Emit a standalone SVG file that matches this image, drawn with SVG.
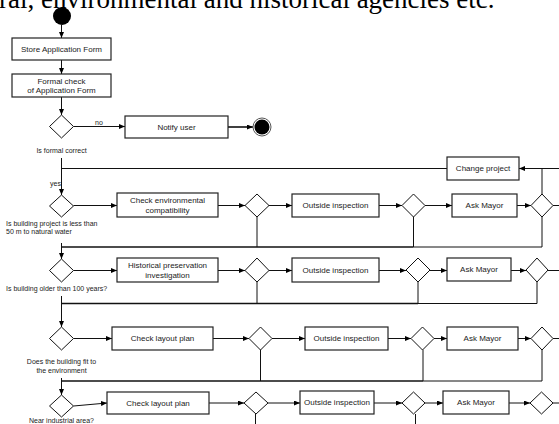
<svg xmlns="http://www.w3.org/2000/svg" width="559" height="424" viewBox="0 0 559 424">
<defs>
<marker id="arr" markerUnits="userSpaceOnUse" markerWidth="6" markerHeight="5" refX="6" refY="2.5" orient="auto">
<path d="M0,0 L6,2.5 L0,5 z" fill="#000"/>
</marker>
<style>
.box{fill:#fff;stroke:#222;stroke-width:1.2}
.dia{fill:#fff;stroke:#111;stroke-width:1}
.t{font-family:"Liberation Sans",Arial,sans-serif;font-size:8px;fill:#222;text-anchor:middle}
.lbl{font-family:"Liberation Sans",Arial,sans-serif;font-size:7px;fill:#222}
.c{fill:none;stroke:#111;stroke-width:1}
.ca{fill:none;stroke:#111;stroke-width:1;marker-end:url(#arr)}
.thick{fill:none;stroke:#111;stroke-width:1.6}
</style>
</defs>
<rect width="559" height="424" fill="#fff"/>
<text x="-1" y="7.5" font-family="'Liberation Serif','Times New Roman',serif" font-size="27" fill="#000">ral, environmental and historical agencies etc.</text>

<g id="connectors">
<line class="ca" x1="61.5" y1="25" x2="61.5" y2="38"/>
<line class="ca" x1="61.5" y1="60" x2="61.5" y2="74"/>
<line class="ca" x1="61.5" y1="97" x2="61.5" y2="115"/>
<line class="ca" x1="73.5" y1="126.5" x2="125" y2="126.5"/>
<line class="thick" x1="228" y1="127" x2="253" y2="127" marker-end="url(#arr)"/>
<line class="ca" x1="61.5" y1="158" x2="61.5" y2="195"/>
<line class="c" x1="61.5" y1="168.5" x2="447" y2="168.5"/>
<line class="ca" x1="559" y1="168.5" x2="519" y2="168.5"/>
<line class="c" x1="542" y1="168.5" x2="542" y2="194"/>
<!-- row 1 -->
<line class="ca" x1="73.5" y1="205.5" x2="117" y2="205.5"/>
<line class="ca" x1="218" y1="205.5" x2="245" y2="205.5"/>
<line class="ca" x1="269" y1="205.5" x2="292" y2="205.5"/>
<line class="ca" x1="379" y1="205.5" x2="402" y2="205.5"/>
<line class="ca" x1="425" y1="205.5" x2="452" y2="205.5"/>
<line class="ca" x1="517" y1="205.5" x2="531" y2="205.5"/>
<line class="c" x1="553" y1="205.5" x2="559" y2="205.5"/>
<polyline class="c" points="257,217 257,247"/>
<polyline class="c" points="413.5,217 413.5,247"/>
<polyline class="c" points="542,217 542,247 413.5,247"/>
<line class="thick" x1="413.5" y1="247" x2="61.5" y2="247"/>
<line class="ca" x1="61.5" y1="243" x2="61.5" y2="259"/>
<!-- row 2 -->
<line class="ca" x1="73.5" y1="270.5" x2="117" y2="270.5"/>
<line class="ca" x1="218" y1="270.5" x2="245" y2="270.5"/>
<line class="ca" x1="269" y1="270.5" x2="292" y2="270.5"/>
<line class="ca" x1="379" y1="270.5" x2="406" y2="270.5"/>
<line class="ca" x1="430" y1="270.5" x2="447" y2="270.5"/>
<line class="ca" x1="511" y1="270.5" x2="526" y2="270.5"/>
<line class="c" x1="548" y1="270.5" x2="559" y2="270.5"/>
<polyline class="c" points="257,282 257,303.5"/>
<polyline class="c" points="418,282 418,303.5"/>
<polyline class="c" points="537,282 537,303.5 418,303.5"/>
<line class="thick" x1="418" y1="303.5" x2="61.5" y2="303.5"/>
<line class="ca" x1="61.5" y1="296" x2="61.5" y2="327"/>
<!-- row 3 -->
<line class="ca" x1="73.5" y1="338.5" x2="112" y2="338.5"/>
<line class="ca" x1="213" y1="338.5" x2="249" y2="338.5"/>
<line class="ca" x1="272" y1="338.5" x2="305" y2="338.5"/>
<line class="ca" x1="388" y1="338.5" x2="411" y2="338.5"/>
<line class="ca" x1="434" y1="338.5" x2="447" y2="338.5"/>
<line class="ca" x1="518" y1="338.5" x2="531" y2="338.5"/>
<line class="c" x1="553" y1="338.5" x2="559" y2="338.5"/>
<polyline class="c" points="260.5,350 260.5,381"/>
<polyline class="c" points="423,350 423,381"/>
<polyline class="c" points="542,350 542,381 423,381"/>
<line class="thick" x1="423" y1="381" x2="61.5" y2="381"/>
<line class="ca" x1="61.5" y1="378" x2="61.5" y2="395"/>
<!-- row 4 -->
<line class="ca" x1="73.5" y1="406" x2="107" y2="403"/>
<line class="ca" x1="209" y1="403" x2="244" y2="403"/>
<line class="ca" x1="268" y1="403" x2="300" y2="403"/>
<line class="ca" x1="374" y1="403" x2="402" y2="403"/>
<line class="ca" x1="425" y1="403" x2="443" y2="403"/>
<line class="ca" x1="509" y1="403" x2="530" y2="403"/>
<line class="c" x1="553" y1="403" x2="559" y2="403"/>
<line class="c" x1="255.5" y1="414" x2="255.5" y2="424"/>
<line class="c" x1="415.5" y1="414" x2="415.5" y2="424"/>
</g>

<g id="start"><circle cx="62" cy="16" r="9" fill="#000"/></g>
<g id="store"><rect class="box" x="12" y="38" width="99" height="22"/><text class="t" x="61.5" y="52">Store Application Form</text></g>
<g id="formal"><rect class="box" x="12" y="74" width="99" height="23"/><text class="t" x="61.5" y="84">Formal check</text><text class="t" x="61.5" y="93">of Application Form</text></g>
<g id="d1"><polygon class="dia" points="61.5,115 73.5,126.5 61.5,138 49.5,126.5"/><text class="lbl" x="61.5" y="153" text-anchor="middle">Is formal correct</text><text class="lbl" x="95" y="125">no</text><text class="lbl" x="61" y="186" text-anchor="end">yes</text></g>
<g id="notify"><rect class="box" x="125" y="116" width="103" height="22"/><text class="t" x="176.5" y="130">Notify user</text></g>
<g id="end"><circle cx="262" cy="127" r="9" fill="#fff" stroke="#555" stroke-width="1"/><circle cx="262" cy="127" r="7.5" fill="#000"/></g>
<g id="change"><rect class="box" x="447" y="157" width="72" height="23"/><text class="t" x="483" y="171">Change project</text></g>

<g id="d2"><polygon class="dia" points="61.5,195 73.5,206 61.5,217 49.5,206"/><text class="lbl" x="6" y="226">Is building project is less than</text><text class="lbl" x="6" y="234">50 m to natural water</text></g>
<g id="env"><rect class="box" x="117" y="193" width="101" height="24"/><text class="t" x="167.5" y="203">Check environmental</text><text class="t" x="167.5" y="213">compatibility</text></g>
<g id="d2a"><polygon class="dia" points="257,194 269,205.5 257,217 245,205.5"/></g>
<g id="oi1"><rect class="box" x="292" y="194" width="87" height="23"/><text class="t" x="335.5" y="208">Outside inspection</text></g>
<g id="d2b"><polygon class="dia" points="413.5,194 425,205.5 413.5,217 402,205.5"/></g>
<g id="am1"><rect class="box" x="452" y="194" width="65" height="23"/><text class="t" x="484.5" y="208">Ask Mayor</text></g>
<g id="d2c"><polygon class="dia" points="542,194 553,205.5 542,217 531,205.5"/></g>

<g id="d3"><polygon class="dia" points="61.5,259 73.5,270.5 61.5,282 49.5,270.5"/><text class="lbl" x="6" y="291">Is building older than 100 years?</text></g>
<g id="hist"><rect class="box" x="117" y="258" width="101" height="24"/><text class="t" x="167.5" y="268">Historical preservation</text><text class="t" x="167.5" y="278">investigation</text></g>
<g id="d3a"><polygon class="dia" points="257,258 269,270.5 257,282 245,270.5"/></g>
<g id="oi2"><rect class="box" x="292" y="258" width="87" height="24"/><text class="t" x="335.5" y="273">Outside inspection</text></g>
<g id="d3b"><polygon class="dia" points="418,258 430,270 418,282 406,270"/></g>
<g id="am2"><rect class="box" x="447" y="258" width="64" height="23"/><text class="t" x="479" y="272">Ask Mayor</text></g>
<g id="d3c"><polygon class="dia" points="537,258 548,270 537,282 526,270"/></g>

<g id="d4"><polygon class="dia" points="61.5,327 73.5,338.5 61.5,350 49.5,338.5"/><text class="lbl" x="61.5" y="364" text-anchor="middle">Does the building fit to</text><text class="lbl" x="61.5" y="373" text-anchor="middle">the environment</text></g>
<g id="lay1"><rect class="box" x="112" y="327" width="101" height="23"/><text class="t" x="162.5" y="341">Check layout plan</text></g>
<g id="d4a"><polygon class="dia" points="260.5,327 272,338.5 260.5,350 249,338.5"/></g>
<g id="oi3"><rect class="box" x="305" y="327" width="83" height="23"/><text class="t" x="346.5" y="341">Outside inspection</text></g>
<g id="d4b"><polygon class="dia" points="422.5,327 434,338.5 422.5,350 411,338.5"/></g>
<g id="am3"><rect class="box" x="447" y="327" width="71" height="23"/><text class="t" x="482.5" y="341">Ask Mayor</text></g>
<g id="d4c"><polygon class="dia" points="542,327 553,338.5 542,350 531,338.5"/></g>

<g id="d5"><polygon class="dia" points="61.5,395 73.5,406 61.5,417 49.5,406"/><text class="lbl" x="61.5" y="423" text-anchor="middle">Near industrial area?</text></g>
<g id="lay2"><rect class="box" x="107" y="392" width="102" height="22"/><text class="t" x="158" y="406">Check layout plan</text></g>
<g id="d5a"><polygon class="dia" points="256,392 268,403 256,414 244,403"/></g>
<g id="oi4"><rect class="box" x="300" y="391" width="74" height="23"/><text class="t" x="337" y="405">Outside inspection</text></g>
<g id="d5b"><polygon class="dia" points="413.5,392 425,403 413.5,414 402,403"/></g>
<g id="am4"><rect class="box" x="443" y="391" width="66" height="23"/><text class="t" x="476" y="405">Ask Mayor</text></g>
<g id="d5c"><polygon class="dia" points="541.5,392 553,403 541.5,414 530,403"/></g>
</svg>
